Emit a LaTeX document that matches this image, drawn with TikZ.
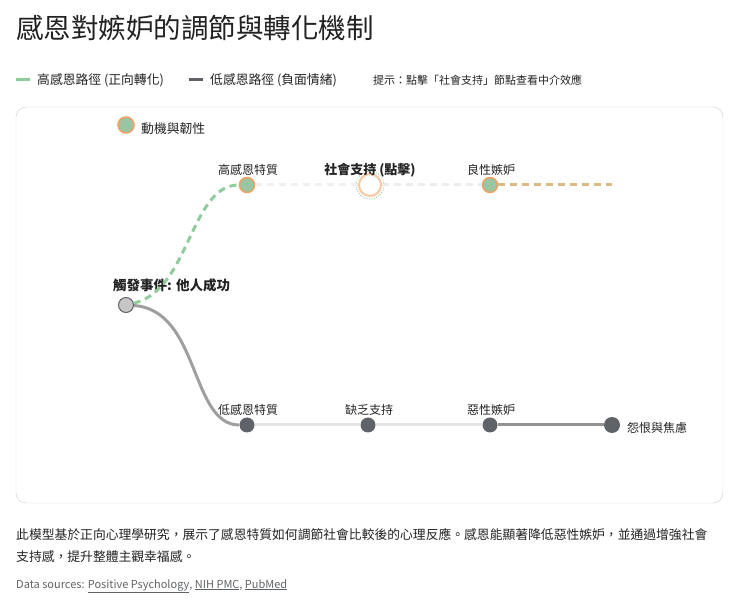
\documentclass[tikz,border=0pt]{standalone}
\usepackage{fontspec}
\setmainfont{Noto Sans CJK TC}
\usetikzlibrary{calc}
\definecolor{gr}{HTML}{8FCB9B}
\definecolor{gd}{HTML}{5F6368}
\definecolor{org}{HTML}{F0A060}
\definecolor{tan}{HTML}{DDB982}
\definecolor{txt}{HTML}{222222}
\tikzset{
 lbl/.style={font=\fontsize{12}{13}\selectfont, text=txt},
 posnode/.style={circle,fill=gr!90!black!80,draw=org,line width=1.5pt,minimum size=15pt,inner sep=0},
 negnode/.style={circle,fill=gd,minimum size=15pt,inner sep=0},
 small/.style={font=\fontsize{12.8}{14}\selectfont, text=txt}
}
\begin{document}
\begin{tikzpicture}[x=1pt,y=-1pt]
\useasboundingbox (0,0) rectangle (740,609);
\node[anchor=west,font=\fontsize{27.5}{30}\selectfont,text=txt,inner sep=0] (title) at (16,28) {感恩對嫉妒的調節與轉化機制};
% legend
\draw[gr,line width=3pt] (16,80) -- (30,80) coordinate (l1);
\node[anchor=west,small,inner sep=0] (lt1) at (37,80) {高感恩路徑 (正向轉化)};
\draw[gd,line width=3pt] (189,80) -- (203,80) coordinate (l2);
\node[anchor=west,small,inner sep=0] (lt2) at (210,80) {低感恩路徑 (負面情緒)};
\node[anchor=west,font=\fontsize{11}{12}\selectfont,text=txt,inner sep=0] (hint) at (373,80) {提示：點擊「社會支持」節點查看中介效應};
\draw[gray!40,rounded corners=10pt] (16,107) rectangle (723,503);
\node[posnode,minimum size=16pt] (leg) at (126,125) {};
\node[anchor=west,small,inner sep=0] (legt) at (141,129) {動機與韌性};
% nodes
\node[circle,fill=gray!45,draw=gd,line width=1pt,minimum size=15pt,inner sep=0] (trig) at (126,305) {};
\node[anchor=west,lbl,font=\bfseries\fontsize{13.5}{14}\selectfont,inner sep=0] at (113,285) {觸發事件: 他人成功};
\node[posnode] (high) at (247,185) {};
\node[lbl] at (248,170) {高感恩特質};
\node[circle,draw=org!55,line width=2.2pt,minimum size=22pt,inner sep=0] (soc) at (370,185) {};
\draw[gr,dash pattern=on 0.8pt off 1.6pt,line width=1pt] (soc) circle (14pt);
\node[lbl,font=\bfseries\fontsize{13}{14}\selectfont] at (370,170) {社會支持 (點擊)};
\node[posnode] (ben) at (490,185) {};
\node[lbl] at (491,170) {良性嫉妒};
\coordinate (benEnd) at (612,185);
\node[negnode] (low) at (247,425) {};
\node[lbl] at (248,410) {低感恩特質};
\node[negnode] (lack) at (368,425) {};
\node[lbl] at (369,410) {缺乏支持};
\node[negnode] (mal) at (490,425) {};
\node[lbl] at (491,410) {惡性嫉妒};
\node[negnode,minimum size=16pt] (res) at (612,425) {};
\node[anchor=west,lbl,inner sep=0] at (627,428) {怨恨與焦慮};
% connectors
\draw[gr,line width=3pt,dash pattern=on 7pt off 5pt] (trig) .. controls (190,290) and (190,185) .. (high);
\draw[gray!12,line width=3pt,dash pattern=on 7pt off 5pt] (high) -- (soc);
\draw[gray!15,line width=3pt,dash pattern=on 7pt off 5pt] (soc) -- (ben);
\draw[tan,line width=3pt,dash pattern=on 7pt off 5pt] (ben) -- (benEnd);
\draw[gray!75,line width=3pt] (trig) .. controls (200,310) and (190,425) .. (low);
\draw[gray!20,line width=3pt] (low) -- (lack);
\draw[gray!20,line width=3pt] (lack) -- (mal);
\draw[gray!85,line width=3pt] (mal) -- (res);
% footer
\node[anchor=north west,align=left,font=\fontsize{12.8}{22}\selectfont,text=txt,inner sep=0] (foot) at (16,528) {此模型基於正向心理學研究，展示了感恩特質如何調節社會比較後的心理反應。感恩能顯著降低惡性嫉妒，並通過增強社會\\支持感，提升整體主觀幸福感。};
\node[anchor=west,font=\fontsize{11}{12}\selectfont,text=gd,inner sep=0] (src) at (16,586) {Data sources: \underline{Positive Psychology}, \underline{NIH PMC}, \underline{PubMed}};
\end{tikzpicture}
\end{document}
